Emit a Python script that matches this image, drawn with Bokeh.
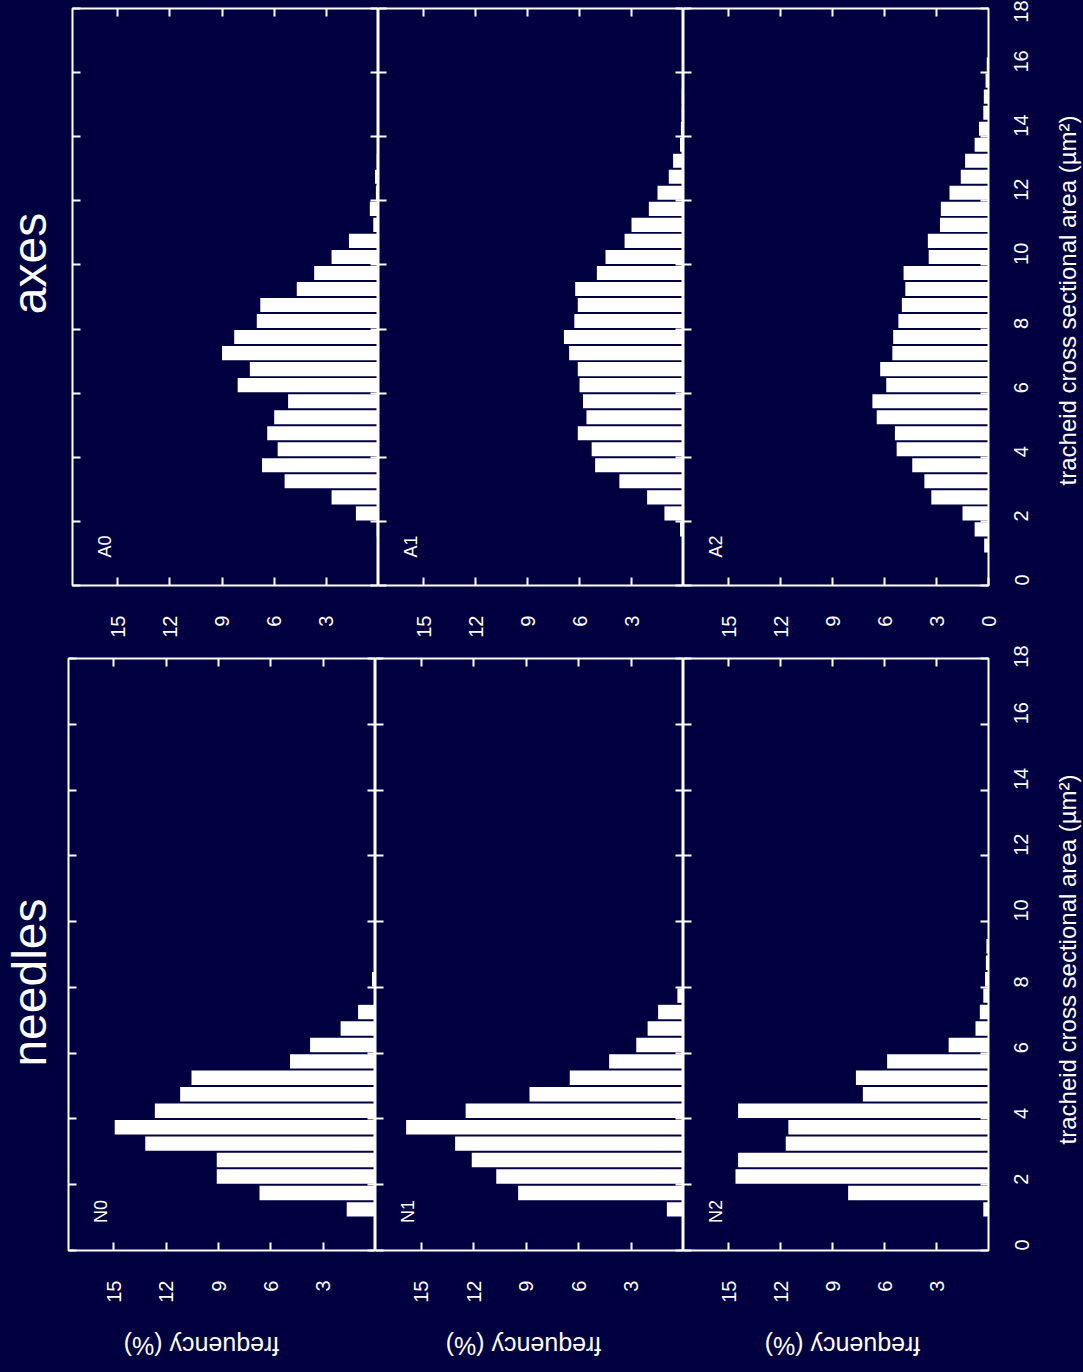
import math
from bokeh.plotting import figure
from bokeh.models import Range1d, FixedTicker, LinearAxis, Label
from bokeh.layouts import row, column
from bokeh.embed import file_html
from bokeh.resources import INLINE

NAVY = "#000040"
FONT = "Liberation Sans"

# bin centres of tracheid cross sectional area (µm²), bin width 0.5
area = [1.25, 1.75, 2.25, 2.75, 3.25, 3.75, 4.25, 4.75, 5.25, 5.75, 6.25,
        6.75, 7.25, 7.75, 8.25, 8.75, 9.25, 9.75, 10.25, 10.75, 11.25,
        11.75, 12.25, 12.75, 13.25, 13.75, 14.25, 14.75, 15.25, 15.75, 16.25]

# frequency (%) per bin
A0 = [0, 0.1, 1.3, 2.7, 5.4, 6.7, 5.8, 6.4, 6.0, 5.2, 8.1, 7.4, 9.0, 8.3, 7.0,
      6.8, 4.7, 3.7, 2.7, 1.7, 0.3, 0.5, 0.15, 0.2, 0.1, 0, 0, 0, 0, 0, 0]
A1 = [0, 0.2, 1.1, 2.1, 3.7, 5.1, 5.3, 6.1, 5.6, 5.8, 6.0, 6.1, 6.6, 6.9, 6.3,
      6.1, 6.25, 5.0, 4.5, 3.4, 3.0, 2.0, 1.5, 0.85, 0.6, 0.2, 0.15, 0.1, 0.1,
      0.05, 0]
A2 = [0.25, 0.8, 1.5, 3.3, 3.7, 4.4, 5.3, 5.4, 6.45, 6.7, 5.9, 6.25, 5.55,
      5.5, 5.2, 5.0, 4.8, 4.9, 3.45, 3.5, 2.8, 2.75, 2.25, 1.6, 1.35, 0.8,
      0.55, 0.3, 0.27, 0.17, 0.1]
N0 = [1.65, 6.65, 9.1, 9.1, 13.2, 14.95, 12.65, 11.2, 10.55, 4.9, 3.75, 2.0,
      1.0, 0, 0.2, 0, 0, 0, 0, 0, 0, 0, 0, 0, 0, 0, 0, 0, 0, 0, 0]
N1 = [0.95, 9.45, 10.7, 12.1, 13.05, 15.85, 12.45, 8.8, 6.5, 4.25, 2.7, 2.05,
      1.45, 0.35, 0.05, 0, 0, 0, 0, 0, 0, 0, 0, 0, 0, 0, 0, 0, 0, 0, 0]
N2 = [0.3, 8.1, 14.6, 14.45, 11.7, 11.55, 14.45, 7.25, 7.65, 5.85, 2.3, 0.75,
      0.5, 0.3, 0.2, 0.15, 0.12, 0, 0, 0, 0, 0, 0, 0, 0, 0, 0, 0, 0, 0, 0]

freq_ticks = [3, 6, 9, 12, 15]
freq_ticks_zero = [0, 3, 6, 9, 12, 15]
area_ticks = [0, 2, 4, 6, 8, 10, 12, 14, 16, 18]

panel_tags = ["A0", "A1", "A2", "N0", "N1", "N2"]
group_titles = ["axes", "needles"]
freq_label = "frequency (%)"
area_label = "tracheid cross sectional area (µm²)"


def style_axis(ax, ticks, show_labels, standoff=0):
    ax.ticker = FixedTicker(ticks=ticks)
    ax.major_tick_in = 8
    ax.major_tick_out = 0
    ax.minor_tick_line_color = None
    ax.axis_line_color = None
    ax.major_tick_line_color = "white"
    ax.major_tick_line_width = 2
    if show_labels:
        ax.major_label_text_color = "white"
        ax.major_label_text_font = FONT
        ax.major_label_text_font_size = "20px"
        ax.major_label_standoff = standoff
        ax.major_label_orientation = math.pi / 2
    else:
        ax.major_label_text_color = None
        ax.major_label_text_font_size = "0px"
        ax.major_label_standoff = 0


def make_panel(values, tag, width, height, bl, br, bt, bb, last=False,
               zero=False):
    p = figure(width=width, height=height, output_backend="svg",
               toolbar_location=None,
               x_range=Range1d(17.6, 0), y_range=Range1d(0, 18),
               x_axis_location="below", y_axis_location="right",
               min_border_left=bl, min_border_right=br,
               min_border_top=bt, min_border_bottom=bb,
               background_fill_color=NAVY, border_fill_color=NAVY,
               outline_line_color="white", outline_line_width=2)
    p.xgrid.visible = False
    p.ygrid.visible = False

    style_axis(p.xaxis[0], freq_ticks_zero if zero else freq_ticks, True, 30)
    style_axis(p.yaxis[0], area_ticks, last, 33)
    top = LinearAxis()
    style_axis(top, freq_ticks, False)
    p.add_layout(top, "above")
    left = LinearAxis()
    style_axis(left, area_ticks, False)
    p.add_layout(left, "left")

    p.hbar(y=area, height=0.44, left=0, right=values,
           fill_color="white", line_color=None)

    p.add_layout(Label(x=32, y=39, x_units="screen", y_units="screen",
                       text=tag, angle=math.pi / 2, text_align="center",
                       text_baseline="middle", text_color="white",
                       text_font=FONT, text_font_size="18px"))
    return p


def text_fig(width, height, items):
    p = figure(width=width, height=height, output_backend="svg",
               toolbar_location=None, x_axis_location=None,
               y_axis_location=None, min_border=0,
               x_range=Range1d(0, 1), y_range=Range1d(0, 1),
               background_fill_color=NAVY, border_fill_color=NAVY,
               outline_line_color=None)
    p.xgrid.visible = False
    p.ygrid.visible = False
    for (x, y, txt, ang, size) in items:
        p.add_layout(Label(x=x, y=y, x_units="screen", y_units="screen",
                           text=txt, angle=ang, text_align="center",
                           text_baseline="middle", text_color="white",
                           text_font=FONT, text_font_size=size))
    return p


H_TOP, TT, TB = 645, 8, 60
H_BOT, BT, BB = 675, 13, 70
H_LAB = 50

# top row: axes  (label y measured from the aligned frame bottom)
t_axes = text_fig(56, H_TOP, [(29, 322, group_titles[0], math.pi / 2, "48px")])
a0 = make_panel(A0, panel_tags[0], 322, H_TOP, 16, 0, TT, TB)
a1 = make_panel(A1, panel_tags[1], 305, H_TOP, 0, 0, TT, TB)
a2 = make_panel(A2, panel_tags[2], 357, H_TOP, 0, 52, TT, TB, last=True,
                zero=True)
r_axes = text_fig(43, H_TOP, [(27, 285, area_label, math.pi / 2, "24px")])

# bottom row: needles
t_need = text_fig(56, H_BOT, [(29, 268, group_titles[1], math.pi / 2, "48px")])
n0 = make_panel(N0, panel_tags[3], 319, H_BOT, 12, 0, BT, BB)
n1 = make_panel(N1, panel_tags[4], 308, H_BOT, 0, 0, BT, BB)
n2 = make_panel(N2, panel_tags[5], 357, H_BOT, 0, 52, BT, BB, last=True)
r_need = text_fig(43, H_BOT, [(27, 291, area_label, math.pi / 2, "24px")])

# frequency axis titles (upside down) under the needle panels
f_row = text_fig(1083, H_LAB, [(201, 25, freq_label, math.pi, "25px"),
                               (523, 25, freq_label, math.pi, "25px"),
                               (842, 25, freq_label, math.pi, "25px")])

layout = column(row(t_axes, a0, a1, a2, r_axes),
                row(t_need, n0, n1, n2, r_need),
                f_row)

html = file_html(layout, INLINE)
html = html.replace("</head>",
                    "<style>html,body{background-color:%s;}</style></head>" % NAVY, 1)
open("out.html", "w").write(html)
